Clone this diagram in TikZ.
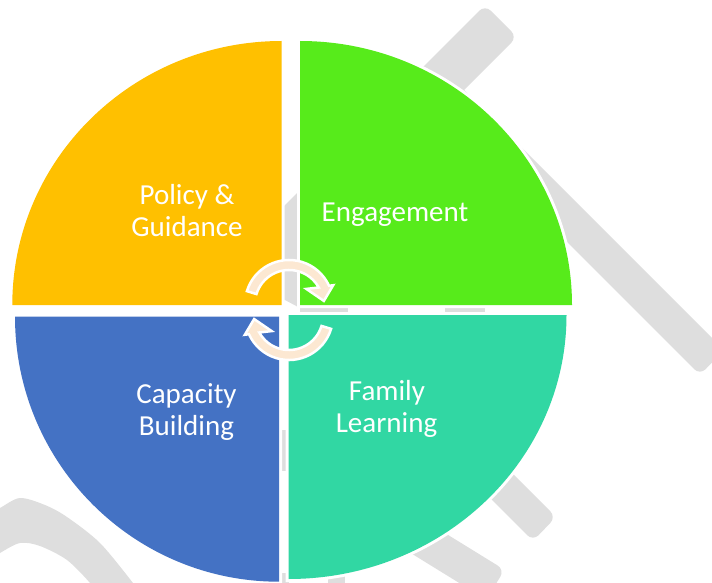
\documentclass[tikz,border=0pt]{standalone}
\usepackage{fontspec}
\setmainfont{Carlito}
\definecolor{cyellow}{HTML}{FFC000}
\definecolor{cgreen}{HTML}{57EB1B}
\definecolor{cblue}{HTML}{4472C4}
\definecolor{cteal}{HTML}{31D7A3}
\definecolor{wmgray}{HTML}{DEDEDE}
\definecolor{peach}{HTML}{FCE8D2}
\begin{document}
\begin{tikzpicture}[x=1pt,y=-1pt,
  wm/.style={fill=wmgray, rounded corners=8pt},
  quad/.style={preaction={draw=white, line width=6pt}},
  lbl/.style={text=white, font=\fontsize{29pt}{31.5pt}\selectfont, anchor=base, inner sep=0pt},
  cyc/.style={fill=peach, draw=white, line width=2.5pt, line join=miter}]
\useasboundingbox (0,0) rectangle (712,583);
\clip (0,0) rectangle (712,583);
% watermark pieces
\fill[wm] (485,5) -- (517,37) -- (417,137) -- (385,105) -- cycle;
\fill[wm] (445,71) -- (724,350) -- (700,375) -- (420,95) -- cycle;
\fill[wm] (470,431) -- (556,517) -- (533,541) -- (450,458) -- cycle;
\fill[wm] (398.2,504.2) -- (504.6,569.8) -- (486.2,599.6) -- (379.8,534) -- cycle;
\fill[wmgray] plot[smooth] coordinates {(-10,513) (0,508) (20,498) (45,505) (67,517) (100,543) (133,583) (137,590)}
  -- plot[smooth] coordinates {(92,590) (90,583) (67,560) (40,546) (20,543) (0,553) (-10,560)} -- cycle;
\fill[wmgray] (283,207) -- (300,190) -- (300,308) -- (283,299) -- cycle;
\fill[wmgray] (300,304) rectangle (348,316);
\fill[wmgray] (445,304) rectangle (485,316);
\fill[wmgray] (279,430) rectangle (289,471);
\fill[wmgray] (279,573) rectangle (289,590);
\fill[wmgray] (328,576) rectangle (345,590);
% quadrants
\path[quad, fill=cyellow] (281.7,305) -- (12.3,305) arc[start angle=180, end angle=270, x radius=269.4, y radius=264] -- cycle;
\path[quad, fill=cgreen] (300,305) -- (300,41) arc[start angle=270, end angle=360, x radius=272, y radius=264] -- cycle;
\path[quad, fill=cblue] (279,316.7) -- (15,316.7) arc[start angle=180, end angle=90, x radius=264, y radius=265] -- cycle;
\path[quad, fill=cteal] (288.5,315) -- (566.5,315) arc[start angle=0, end angle=90, x radius=278, y radius=264] -- cycle;
% cycle arrows
\begin{scope}[shift={(289,304)}]
\path[cyc] (197:44) arc[start angle=197, end angle=335.5, radius=44] -- (337:48) -- (355:35) -- (319:23) -- (331:34) arc[start angle=331, end angle=197, radius=34] -- cycle;
\end{scope}
\begin{scope}[shift={(289,316)}]
\path[cyc] (17:44) arc[start angle=17, end angle=155.5, radius=44] -- (157:48) -- (175:35) -- (139:23) -- (151:34) arc[start angle=151, end angle=17, radius=34] -- cycle;
\end{scope}
% labels
\node[lbl] (pol1) at (187,204.5) {Policy \&};
\node[lbl] (pol2) at (187,236) {Guidance};
\node[lbl] (eng) at (395,221) {Engagement};
\node[lbl] (cap1) at (186.5,403) {Capacity};
\node[lbl] (cap2) at (186.5,435) {Building};
\node[lbl] (fam1) at (387,400) {Family};
\node[lbl] (fam2) at (386.5,432) {Learning};
\end{tikzpicture}
\end{document}
